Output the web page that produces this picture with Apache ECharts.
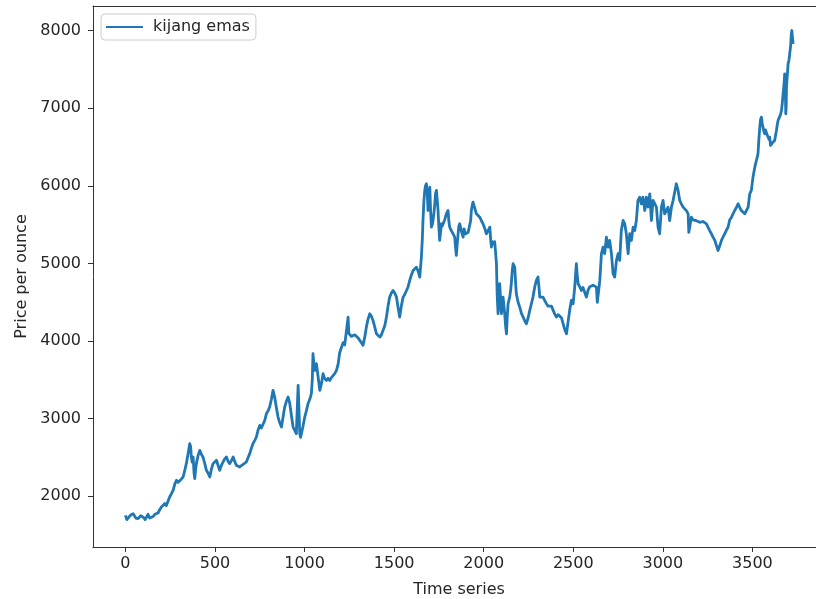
<!DOCTYPE html>
<html>
<head>
<meta charset="utf-8">
<title>kijang emas</title>
<script src="https://cdn.jsdelivr.net/npm/echarts@6/dist/echarts.min.js"></script>
<style>
  html, body { margin: 0; padding: 0; background: #fff; overflow: hidden; }
  /* the plot box runs past the right edge of the window, as in the source image */
  #chart { width: 840px; height: 599px; }
</style>
</head>
<body>
<div id="chart"></div>
<script>
// series name and axis texts
const seriesName = 'kijang emas';
const xTitle = 'Time series';
const yTitle = 'Price per ounce';

// tick labels
const xTicks = [0, 500, 1000, 1500, 2000, 2500, 3000, 3500];
const yTicks = [2000, 3000, 4000, 5000, 6000, 7000, 8000];

// [time index, price]
const kijangEmas = [
  [0, 1755], [8, 1700], [15, 1691], [30, 1760], [43, 1777], [58, 1720], [71, 1713], [85, 1750],
  [98, 1734], [110, 1700], [117, 1691], [126, 1768], [135, 1720], [145, 1700], [155, 1740], [164, 1768],
  [173, 1760], [182, 1785], [192, 1830], [201, 1863], [210, 1880], [219, 1906], [228, 1880], [238, 1884],
  [247, 1991], [256, 2030], [266, 2077], [276, 2160], [285, 2206], [294, 2180], [303, 2163], [312, 2220],
  [322, 2249], [331, 2330], [340, 2421], [350, 2550], [359, 2678], [364, 2640], [368, 2506], [373, 2440],
  [378, 2506], [383, 2300], [387, 2228], [392, 2350], [396, 2421], [405, 2520], [415, 2592], [424, 2540],
  [433, 2506], [443, 2420], [452, 2335], [461, 2300], [471, 2249], [480, 2350], [489, 2421], [499, 2440],
  [508, 2464], [517, 2400], [526, 2335], [536, 2400], [545, 2442], [554, 2480], [564, 2506], [573, 2450],
  [582, 2421], [592, 2460], [601, 2506], [610, 2450], [619, 2400], [628, 2390], [638, 2378], [647, 2400],
  [657, 2410], [666, 2420], [675, 2442], [685, 2500], [694, 2550], [703, 2620], [712, 2678], [722, 2720],
  [731, 2764], [740, 2850], [750, 2914], [759, 2880], [768, 2871], [778, 2980], [787, 3064], [796, 3100],
  [805, 3150], [815, 3250], [824, 3365], [833, 3279], [842, 3150], [852, 3021], [861, 2950], [871, 2892],
  [880, 3020], [889, 3150], [898, 3220], [908, 3279], [917, 3200], [926, 3050], [936, 2892], [945, 2850],
  [954, 2807], [964, 3429], [969, 3100], [973, 2807], [978, 2760], [982, 2764], [991, 2900], [1001, 3021],
  [1010, 3100], [1019, 3193], [1029, 3250], [1038, 3322], [1043, 3500], [1047, 3837], [1052, 3700], [1057, 3622],
  [1062, 3650], [1066, 3708], [1075, 3550], [1085, 3365], [1094, 3450], [1103, 3579], [1112, 3520], [1122, 3493],
  [1131, 3520], [1140, 3493], [1150, 3530], [1159, 3536], [1168, 3580], [1178, 3622], [1187, 3700], [1196, 3850],
  [1206, 3920], [1215, 3980], [1224, 3950], [1233, 3966], [1243, 4309], [1247, 4100], [1252, 4094], [1261, 4060],
  [1271, 4051], [1280, 4080], [1289, 4073], [1299, 4040], [1308, 4009], [1317, 3980], [1326, 3944], [1336, 4050],
  [1345, 4180], [1354, 4280], [1364, 4352], [1373, 4320], [1382, 4266], [1392, 4180], [1401, 4094], [1410, 4080],
  [1420, 4051], [1429, 4080], [1438, 4094], [1448, 4200], [1457, 4309], [1466, 4450], [1475, 4566], [1485, 4620],
  [1494, 4652], [1503, 4620], [1513, 4566], [1522, 4430], [1531, 4309], [1540, 4450], [1550, 4566], [1559, 4600],
  [1568, 4609], [1578, 4700], [1587, 4781], [1596, 4850], [1606, 4910], [1615, 4930], [1624, 4952], [1634, 4900],
  [1643, 4824], [1652, 5081], [1657, 5300], [1661, 5554], [1666, 5800], [1671, 5940], [1675, 6000], [1680, 6026],
  [1685, 5900], [1689, 5682], [1694, 5850], [1699, 5983], [1703, 5700], [1708, 5468], [1713, 5500], [1717, 5554],
  [1722, 5650], [1727, 5768], [1731, 5900], [1736, 5940], [1741, 5800], [1745, 5682], [1750, 5450], [1754, 5296],
  [1759, 5400], [1764, 5511], [1768, 5480], [1773, 5468], [1782, 5560], [1792, 5640], [1801, 5682], [1805, 5550],
  [1810, 5468], [1820, 5420], [1829, 5382], [1838, 5339], [1843, 5200], [1847, 5103], [1852, 5250], [1857, 5382],
  [1861, 5480], [1866, 5511], [1875, 5420], [1885, 5339], [1890, 5446], [1894, 5446], [1899, 5380], [1903, 5382],
  [1913, 5400], [1922, 5425], [1927, 5550], [1931, 5682], [1936, 5750], [1940, 5790], [1945, 5780], [1950, 5768],
  [1959, 5640], [1968, 5620], [1978, 5596], [1987, 5550], [1996, 5511], [2006, 5450], [2015, 5382], [2024, 5420],
  [2034, 5468], [2039, 5300], [2043, 5210], [2048, 5280], [2052, 5296], [2057, 5250], [2061, 5280], [2066, 5150],
  [2071, 4996], [2075, 4600], [2080, 4352], [2085, 4500], [2089, 4738], [2094, 4550], [2099, 4352], [2103, 4450],
  [2108, 4566], [2113, 4450], [2117, 4352], [2122, 4200], [2127, 4094], [2131, 4300], [2136, 4481], [2141, 4500],
  [2145, 4566], [2150, 4650], [2154, 4738], [2159, 4900], [2164, 4996], [2168, 4980], [2173, 4952], [2178, 4750],
  [2182, 4609], [2192, 4500], [2201, 4437], [2210, 4360], [2220, 4309], [2229, 4260], [2238, 4223], [2248, 4300],
  [2257, 4395], [2266, 4480], [2275, 4566], [2285, 4700], [2294, 4781], [2303, 4824], [2308, 4700], [2313, 4566],
  [2322, 4566], [2331, 4566], [2341, 4520], [2350, 4481], [2359, 4450], [2368, 4437], [2378, 4450], [2387, 4437],
  [2396, 4350], [2406, 4309], [2415, 4340], [2424, 4352], [2434, 4300], [2443, 4223], [2452, 4150], [2462, 4094],
  [2471, 4250], [2480, 4400], [2489, 4523], [2499, 4481], [2508, 4695], [2517, 4996], [2522, 4850], [2527, 4738],
  [2536, 4700], [2545, 4652], [2554, 4690], [2564, 4695], [2573, 4566], [2582, 4652], [2592, 4700], [2601, 4695],
  [2610, 4720], [2620, 4738], [2629, 4695], [2634, 4500], [2638, 4481], [2648, 4781], [2657, 5125], [2666, 5210],
  [2675, 5125], [2685, 5339], [2694, 5210], [2703, 5296], [2713, 5125], [2722, 4867], [2731, 4824], [2741, 5039],
  [2750, 5125], [2759, 5039], [2768, 5425], [2778, 5553], [2787, 5511], [2796, 5382], [2806, 5125], [2815, 5382],
  [2824, 5296], [2834, 5468], [2843, 5425], [2852, 5553], [2861, 5811], [2871, 5854], [2880, 5768], [2889, 5854],
  [2899, 5682], [2908, 5854], [2917, 5725], [2927, 5897], [2936, 5553], [2945, 5811], [2955, 5811], [2964, 5725],
  [2973, 5468], [2982, 5382], [2992, 5725], [3001, 5811], [3010, 5639], [3020, 5682], [3029, 5725], [3038, 5553],
  [3048, 5725], [3057, 5811], [3066, 5811], [3075, 6026], [3085, 5940], [3094, 5811], [3103, 5768], [3113, 5725],
  [3122, 5725], [3131, 5680], [3141, 5639], [3145, 5400], [3150, 5425], [3159, 5596], [3168, 5560], [3178, 5553],
  [3187, 5550], [3196, 5553], [3206, 5530], [3215, 5511], [3224, 5540], [3234, 5553], [3243, 5510], [3252, 5468],
  [3262, 5420], [3271, 5382], [3280, 5340], [3290, 5296], [3299, 5230], [3308, 5167], [3318, 5230], [3327, 5296],
  [3336, 5340], [3345, 5382], [3355, 5430], [3364, 5468], [3373, 5560], [3383, 5596], [3392, 5640], [3401, 5682],
  [3411, 5725], [3420, 5768], [3429, 5720], [3438, 5682], [3448, 5680], [3457, 5639], [3466, 5660], [3476, 5725],
  [3485, 5897], [3494, 5940], [3503, 6111], [3513, 6240], [3522, 6240], [3531, 6412], [3536, 6600], [3541, 6755],
  [3545, 6850], [3550, 6884], [3555, 6800], [3559, 6755], [3564, 6700], [3569, 6669], [3573, 6720], [3578, 6712],
  [3583, 6650], [3587, 6626], [3592, 6600], [3596, 6626], [3601, 6520], [3606, 6497], [3610, 6550], [3615, 6541],
  [3620, 6560], [3624, 6584], [3629, 6650], [3634, 6712], [3638, 6780], [3643, 6841], [3648, 6820], [3652, 6841],
  [3657, 6920], [3662, 6970], [3666, 7050], [3671, 7185], [3676, 7300], [3680, 7442], [3683, 7300], [3686, 6927],
  [3688, 7000], [3690, 7270], [3694, 7400], [3699, 7571], [3704, 7620], [3708, 7700], [3713, 7800], [3717, 7957],
  [3720, 8000], [3724, 7900], [3727, 7828]
];

const FONT = 'DejaVu Sans';
const TEXT = '#262626';
const AXIS = '#333';

const chart = echarts.init(document.getElementById('chart'), null, { renderer: 'canvas' });

const option = {
  animation: false,
  color: ['#1f77b4'],
  textStyle: { fontFamily: FONT },
  grid: {
    left: 93,
    top: 6,
    width: 732,
    height: 541,
    outerBoundsMode: 'none',
    containLabel: false
  },
  legend: {
    data: [seriesName],
    left: 101,
    top: 14,
    icon: 'rect',
    itemWidth: 37,
    itemHeight: 2,
    padding: [5, 6, 5, 5],
    backgroundColor: 'rgba(255,255,255,0.8)',
    borderColor: '#cccccc',
    borderWidth: 1,
    borderRadius: 4,
    textStyle: { fontFamily: FONT, fontSize: 16, color: TEXT, padding: [0, 0, 0, 5] }
  },
  xAxis: [
    {
      type: 'value',
      min: -181,
      max: 3905,
      name: xTitle,
      nameLocation: 'middle',
      nameGap: 35,
      nameTextStyle: { fontFamily: FONT, fontSize: 16, color: TEXT },
      splitLine: { show: false },
      axisLine: { show: true, onZero: false, lineStyle: { color: AXIS, width: 1 } },
      axisTick: { show: true, length: 5, customValues: xTicks, lineStyle: { color: AXIS } },
      axisLabel: {
        customValues: xTicks, margin: 9, fontFamily: FONT, fontSize: 16, color: TEXT,
        formatter: v => String(v)
      }
    },
    {
      // top spine only
      type: 'value',
      position: 'top',
      min: -181,
      max: 3905,
      splitLine: { show: false },
      axisLine: { show: true, onZero: false, lineStyle: { color: AXIS, width: 1 } },
      axisTick: { show: false },
      axisLabel: { show: false }
    }
  ],
  yAxis: {
    type: 'value',
    min: 1347,
    max: 8316,
    name: yTitle,
    nameLocation: 'middle',
    nameGap: 58,
    nameTextStyle: { fontFamily: FONT, fontSize: 16, color: TEXT },
    splitLine: { show: false },
    axisLine: { show: true, onZero: false, lineStyle: { color: AXIS, width: 1 } },
    axisTick: { show: true, length: 5, customValues: yTicks, lineStyle: { color: AXIS } },
    axisLabel: {
      customValues: yTicks, margin: 12, fontFamily: FONT, fontSize: 16, color: TEXT,
      formatter: v => String(v)
    }
  },
  series: [
    {
      name: seriesName,
      type: 'line',
      xAxisIndex: 0,
      data: kijangEmas,
      showSymbol: false,
      lineStyle: { width: 2.8, color: '#1f77b4', join: 'round' },
      clip: true
    }
  ]
};

chart.setOption(option);
</script>
</body>
</html>
